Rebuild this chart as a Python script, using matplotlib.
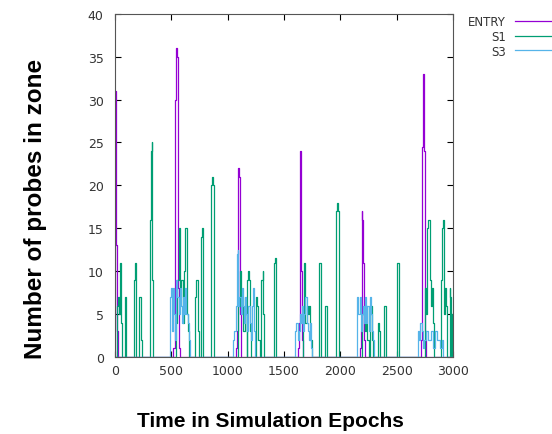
import matplotlib
matplotlib.use("Agg")
import matplotlib.pyplot as plt

# ENTRY zone probe counts (epoch, count)
entry_t = [0, 3, 10, 14, 20, 28,
           500, 520, 530, 538, 545, 555, 562, 570, 580,
           1060, 1075, 1085, 1092, 1100, 1108, 1115,
           1600, 1625, 1632, 1638, 1645, 1652, 1660, 1670,
           2150, 2170, 2180, 2188, 2195, 2200, 2208, 2220,
           2690, 2712, 2720, 2726, 2734, 2740, 2748, 2760, 3000]
entry_n = [0, 31, 31, 13, 3, 0,
           0, 1, 5, 30, 36, 35, 8, 1, 0,
           0, 1, 3, 22, 21, 5, 0,
           0, 1, 4, 21, 24, 10, 2, 0,
           0, 1, 3, 17, 16, 11, 2, 0,
           0, 2, 8, 24.5, 33, 24, 3, 0, 0]

# S1 zone probe counts
s1_t = [0, 15, 25, 35, 45, 52, 58, 65, 80, 88, 95, 102,
        165, 172, 178, 185, 192, 212, 218, 225, 232, 240,
        305, 312, 320, 327, 334, 342,
        525, 540, 555, 565, 572, 580, 590, 598, 605, 615, 625, 632, 640, 650, 660,
        700, 712, 720, 728, 735, 745, 755, 762, 770, 778, 785,
        845, 855, 862, 870, 878,
        1085, 1095, 1108, 1115, 1125, 1135, 1150, 1162, 1170, 1175, 1183, 1190, 1198, 1210,
        1245, 1255, 1262, 1270, 1290, 1300, 1310, 1318, 1325,
        1400, 1410, 1418, 1425, 1432,
        1655, 1665, 1675, 1682, 1690, 1700, 1710, 1720, 1730, 1745,
        1800, 1810, 1818, 1825, 1855, 1862, 1870, 1878,
        1955, 1962, 1970, 1978, 1985,
        2180, 2195, 2205, 2215, 2225, 2235, 2250, 2260, 2270, 2280, 2290,
        2320, 2330, 2340, 2350, 2380, 2390, 2398, 2405,
        2495, 2505, 2512, 2520,
        2740, 2750, 2760, 2768, 2775, 2782, 2790, 2800, 2810, 2818, 2830,
        2880, 2890, 2900, 2908, 2915, 2922, 2930, 2938, 2945,
        2960, 2968, 2975, 2982, 2990, 3000]
s1_n = [0, 6, 7, 5, 11, 10, 4, 0, 0, 7, 5, 0,
        0, 9, 11, 11, 0, 0, 7, 7, 2, 0,
        0, 16, 24, 25, 9, 0,
        0, 4, 9, 15, 15, 7, 9, 9, 4, 10, 15, 15, 5, 3, 0,
        0, 7, 9, 9, 3, 0, 0, 14, 15, 14, 0,
        0, 20, 21, 20, 0,
        0, 6, 10, 7, 7, 3, 6, 5, 0, 9, 10, 9, 3, 0,
        0, 7, 6, 2, 0, 9, 10, 5, 0,
        0, 11, 11.5, 11, 0,
        0, 5, 11, 11, 4, 6, 5, 6, 2, 0,
        0, 11, 11, 0, 0, 6, 6, 0,
        0, 17, 18, 17, 0,
        0, 5, 6, 3, 6, 2, 0, 5, 6, 2, 0,
        0, 4, 3, 0, 0, 6, 6, 0,
        0, 11, 11, 0,
        0, 8, 5, 15, 16, 16, 9, 6, 8, 4, 0,
        0, 9, 15, 16, 15, 5, 8, 6, 0,
        0, 8, 7, 0, 5, 5]

# S3 zone probe counts
s3_t = [0, 470, 485, 495, 505, 515, 525, 535, 545, 555, 565, 575, 585, 595,
        605, 615, 625, 635, 645, 655, 665,
        1040, 1050, 1060, 1070, 1080, 1088, 1095, 1105, 1115, 1125, 1135, 1145,
        1155, 1165, 1175, 1185, 1195, 1205, 1215, 1225, 1235, 1245,
        1590, 1600, 1610, 1620, 1630, 1640, 1650, 1660, 1670, 1680, 1690, 1700,
        1710, 1720, 1730, 1740, 1750,
        2140, 2150, 2160, 2170, 2180, 2190, 2200, 2210, 2220, 2230, 2240, 2250,
        2260, 2270, 2280, 2290, 2300,
        2680, 2690, 2700, 2710, 2720, 2730, 2740, 2760, 2780, 2800, 2820, 2840,
        2860, 2880, 2900, 2910, 3000]
s3_n = [0, 0, 7, 8, 3, 8, 5, 2, 9, 7, 5, 8, 6, 4,
        7, 5, 8, 5, 4, 2, 0,
        0, 2, 3, 6, 12, 12.5, 6, 7, 5, 8, 6, 4,
        7, 5, 3, 6, 4, 2, 6, 8, 3, 0,
        0, 3, 4, 2, 3, 5, 4, 6, 3, 5, 7, 4,
        3, 2, 4, 1, 0,
        0, 7, 5, 7, 3, 5, 6, 4, 7, 4, 6, 3,
        7, 5, 3, 2, 0,
        0, 3, 2, 4, 3, 1, 2, 3, 2, 3, 1, 3,
        2, 1, 2, 0, 0]

x_ticks = [0, 500, 1000, 1500, 2000, 2500, 3000]
y_ticks = [0, 5, 10, 15, 20, 25, 30, 35, 40]

fig = plt.figure(figsize=(5.52, 4.35), dpi=100)
ax = fig.add_axes([0.208, 0.177, 0.613, 0.789])

ax.plot(entry_t, entry_n, color="#9400d3", linewidth=0.9, drawstyle="steps-post", label="ENTRY")
ax.plot(s1_t, s1_n, color="#009e73", linewidth=0.9, drawstyle="steps-post", label="S1")
ax.plot(s3_t, s3_n, color="#56b4e9", linewidth=0.9, drawstyle="steps-post", label="S3")

ax.set_xlim(0, 3000)
ax.set_ylim(0, 40)
ax.set_xticks(x_ticks)
ax.set_yticks(y_ticks)
ax.tick_params(direction="in", top=True, right=True, length=4,
               labelsize=9, labelcolor="#333333", pad=8)
ax.tick_params(axis="x", pad=5)
for side in ax.spines.values():
    side.set_color("#555555")
    side.set_linewidth(0.8)
    side.set_zorder(3)

fig.text(0.49, 0.03, "Time in Simulation Epochs", ha="center", va="center",
         fontsize=15, fontweight="bold", family="Liberation Sans")
fig.text(0.065, 0.52, "Number of probes in zone", ha="center", va="center",
         rotation=90, fontsize=17.5, fontweight="bold", family="Liberation Sans")

leg = ax.legend(loc="upper left", bbox_to_anchor=(1.03, 1.01), frameon=False,
                markerfirst=False, fontsize=8.5, handlelength=3.2,
                labelspacing=0.15, borderaxespad=0)
for txt in leg.get_texts():
    txt.set_ha("right")
    txt.set_color("#333333")
for line in leg.get_lines():
    line.set_linewidth(0.9)

fig.savefig("out.png", dpi=100)
